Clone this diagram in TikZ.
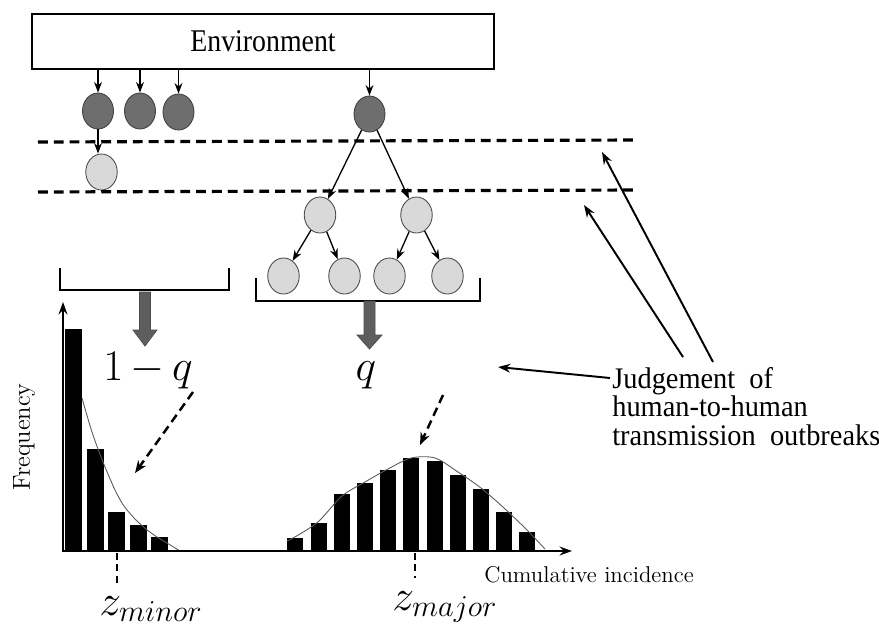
\documentclass[tikz,border=0pt]{standalone}
\usepackage{fontspec}
\newfontfamily\timesf{Liberation Serif}
\usetikzlibrary{arrows.meta,shapes.geometric}
\definecolor{darkc}{HTML}{6E6E6E}
\definecolor{lightc}{HTML}{D9D9D9}
\definecolor{bigarrow}{HTML}{5E5E5E}
\begin{document}
\begin{tikzpicture}[x=0.02cm,y=-0.02cm,
  arr/.style={-{Stealth[length=6pt,width=4.5pt]}, line width=0.75pt},
  longarr/.style={-{Stealth[length=7pt,width=5pt]}, line width=1.1pt},
  dasharr/.style={-{Stealth[length=7pt,width=5.5pt]}, line width=1.4pt, dash pattern=on 5pt off 3pt},
  level/.style={line width=1.8pt, dash pattern=on 5.6pt off 3.4pt},
  tick/.style={line width=1.6pt, dash pattern=on 4pt off 2.5pt},
  darkcirc/.style={ellipse, draw=black!75, fill=darkc, line width=0.5pt, minimum width=0.62cm, minimum height=0.72cm, inner sep=0pt},
  lightcirc/.style={ellipse, draw=black!70, fill=lightc, line width=0.5pt, minimum width=0.63cm, minimum height=0.72cm, inner sep=0pt},
  bracketline/.style={line width=0.8pt},
  bigarr/.style={fill=bigarrow, draw=black!70, line width=0.4pt},
  bar/.style={fill=black},
  fitcurve/.style={draw=black!65, line width=0.5pt},
  axis/.style={line width=1.4pt, -{Stealth[length=7pt,width=5pt]}},
  bigmath/.style={inner sep=0pt, font=\fontsize{30}{32}\selectfont}
]
\useasboundingbox (0,0) rectangle (879,633);

% Environment
\node[draw, line width=0.8pt, minimum width=9.24cm, minimum height=1.1cm, inner sep=0pt,
      font=\timesf\fontsize{18}{20}\selectfont] (env) at (263,41.5) {\scalebox{0.88}[1]{Environment}};

% dark circles
\node[darkcirc] (d1) at (98,111) {};
\node[darkcirc] (d2) at (140,111) {};
\node[darkcirc] (d3) at (178.5,112) {};
\node[darkcirc] (tr) at (369.5,114) {};

\draw[arr] (env.south -| d1) -- (d1.north);
\draw[arr] (env.south -| d2) -- (d2.north);
\draw[arr] (env.south -| d3) -- (d3.north);
\draw[arr] (env.south -| tr) -- (tr.north);

% light circles
\node[lightcirc] (l1) at (101.5,172) {};
\draw[arr] (d1.south -| 98,0) -- (l1.north -| 98,0);

\node[lightcirc] (a) at (320,215) {};
\node[lightcirc] (b) at (416.5,215) {};
\node[lightcirc] (c1) at (283.5,276) {};
\node[lightcirc] (c2) at (344.5,276) {};
\node[lightcirc] (c3) at (389.5,276) {};
\node[lightcirc] (c4) at (447.5,276) {};

\draw[arr] (tr) -- (a);
\draw[arr] (tr) -- (b);
\draw[arr] (a) -- (c1);
\draw[arr] (a) -- (c2);
\draw[arr] (b) -- (c3);
\draw[arr] (b) -- (c4);

% dashed levels
\coordinate (u1) at (38,142);
\coordinate (u2) at (637,140);
\coordinate (v1) at (38,192);
\coordinate (v2) at (637,190);
\draw[level] (u1) -- (u2);
\draw[level] (v1) -- (v2);

% brackets
\draw[bracketline] (60,268) -- (60,290) -- (229,290) -- (229,268);
\draw[bracketline] (256,278) -- (256,301) -- (480,301) -- (480,278);

% big gray arrows
\draw[bigarr] (139.5,292) -- (150.5,292) -- (150.5,330) -- (157,330) -- (145,346) -- (133,330) -- (139.5,330) -- cycle;
\draw[bigarr] (364,301) -- (375,301) -- (375,335) -- (382,335) -- (369.5,349) -- (357,335) -- (364,335) -- cycle;

% probabilities
\node[anchor=base, bigmath] (omq) at (148,380) {$1\mkern3mu{-}\mkern3mu q$};
\node[anchor=base, bigmath] (q) at (366,380) {$q$};

% dashed arrows to histograms
\coordinate (ls) at (193,392);
\coordinate (le) at (135,473);
\coordinate (rs) at (443,395);
\coordinate (re) at (420,445);
\draw[dasharr] (ls) -- (le);
\draw[dasharr] (rs) -- (re);

% bars left
\foreach \x/\t in {65/329, 87/449, 108/512, 130/525, 151/537}
  \fill[bar] (\x,551) rectangle (\x+16.5,\t);
% bars right
\foreach \x/\t in {287/538, 311/523, 334/494, 357/483, 380/470, 403/458, 427/461, 450/475, 473/489, 496/512, 519/532}
  \fill[bar] (\x,551) rectangle (\x+16,\t);

% fitted curves
\draw[fitcurve] plot[smooth] coordinates {(82,398) (92,432) (103,462) (115,490) (124,506) (135,519) (146,529) (157,537) (167,543) (180,551)};
\draw[fitcurve] plot[smooth] coordinates {(287,541) (300,534) (319,521) (342,496) (365,482) (388,469) (411,458) (435,458) (458,472) (481,488) (504,508) (527,530) (545,549)};

% axes
\coordinate (o) at (63,551);
\coordinate (ytop) at (63,302);
\coordinate (xend) at (572,551);
\draw[axis] (o) -- (ytop);
\draw[axis] ([xshift=-0.7pt]o) -- (xend);

% ticks
\coordinate (t1a) at (117,553);
\coordinate (t1b) at (117,583);
\coordinate (t2a) at (415,553);
\coordinate (t2b) at (415,578);
\draw[tick] (t1a) -- (t1b);
\draw[tick] (t2a) -- (t2b);

\node[anchor=base west, inner sep=0pt, font=\fontsize{24}{26}\selectfont] (zmin) at (99,615) {$z_{minor}$};
\node[anchor=base west, inner sep=0pt, font=\fontsize{24}{26}\selectfont] (zmaj) at (392,610) {$z_{major}$};

% axis labels
\node[rotate=90, inner sep=0pt, font=\fontsize{14}{16}\selectfont] (freq) at (24,437) {Frequency};
\node[anchor=base west, inner sep=0pt, font=\fontsize{13}{15}\selectfont] (cum) at (484,582) {Cumulative incidence};

% judgement
\node[anchor=base west, align=left, inner sep=0pt, font=\timesf\fontsize{17}{16.2}\selectfont] (judg) at (612,445)
  {\scalebox{0.95}[1]{Judgement\ \ of}\\\scalebox{0.95}[1]{human-to-human}\\\scalebox{0.95}[1]{transmission\ \ outbreaks}};

\coordinate (j0) at (610,378);
\coordinate (j1) at (683,357);
\coordinate (j2) at (713,362);
\coordinate (qtip) at (498,367);
\coordinate (m1) at (584,205);
\coordinate (m2) at (602,152);
\draw[longarr] (j0) -- (qtip);
\draw[longarr] (j1) -- (m1);
\draw[longarr] (j2) -- (m2);
\end{tikzpicture}
\end{document}
